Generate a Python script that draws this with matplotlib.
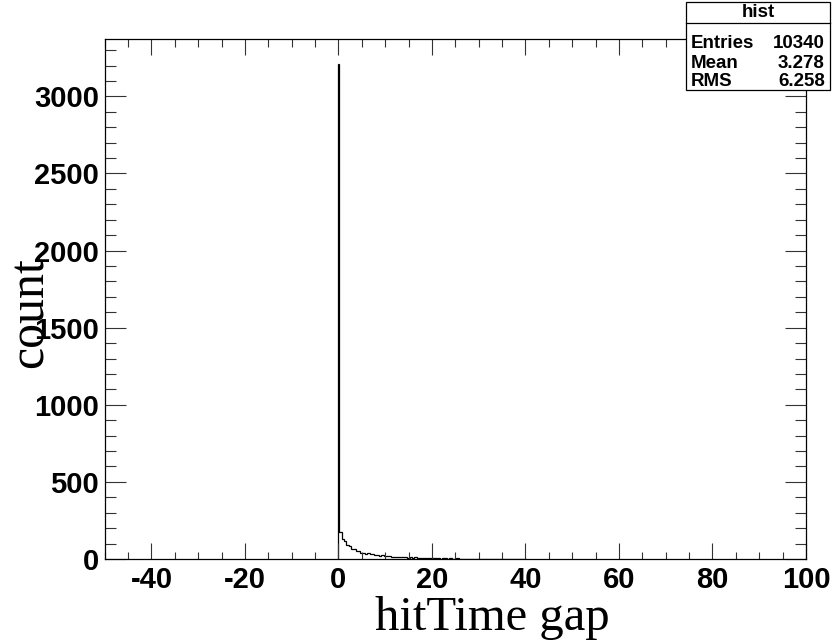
import matplotlib
matplotlib.use('Agg')
import matplotlib.pyplot as plt
from matplotlib.patches import Rectangle
from matplotlib.lines import Line2D
from matplotlib.ticker import MultipleLocator

plt.rcParams['font.family'] = ['Liberation Sans', 'DejaVu Sans']
plt.rcParams['font.weight'] = 'bold'
plt.rcParams['axes.unicode_minus'] = False

# ---------------- data ----------------
spike_edges = [0.0, 0.1, 0.2]
spike_counts = [3210, 1110]
tail_start = 0.2
tail_width = 0.5
tail_counts = [172, 130, 118, 94, 86, 68, 64, 53, 49, 42,
               41, 35, 36, 30, 31, 26, 27, 22, 24, 19,
               20, 17, 16, 15, 16, 12, 13, 11, 12, 9,
               11, 8, 10, 7, 9, 6, 8, 5, 7, 6,
               4, 6, 5, 3, 5, 4, 3, 4, 3, 2,
               4, 2, 3, 2, 1, 3, 2, 1, 3, 1,
               2, 1, 2, 0, 1, 2, 1, 0, 2, 1,
               1, 0, 2, 1, 0, 1, 0, 2, 0, 1]
x_range = [-50, 100]
y_range = [0, 3370]
x_title = 'hitTime gap'
y_title = 'count'
stats_name = 'hist'
stats_labels = ['Entries', 'Mean', 'RMS']
stats_values = ['10340', '3.278', '6.258']

# ---------------- figure ----------------
W, H = 833, 644
fig = plt.figure(figsize=(W / 100, H / 100), dpi=100)
left, right, top, bottom = 104.7, 806, 39.3, 559
ax = fig.add_axes([left / W, 1 - bottom / H, (right - left) / W, (bottom - top) / H])

edges = list(spike_edges) + [tail_start + tail_width * (i + 1) for i in range(len(tail_counts))]
values = list(spike_counts) + list(tail_counts)
ax.stairs(values, edges, baseline=0, color='black', linewidth=0.9)

ax.set_xlim(*x_range)
ax.set_ylim(*y_range)

for s in ax.spines.values():
    s.set_linewidth(0.9)

ax.xaxis.set_major_locator(MultipleLocator(20))
ax.xaxis.set_minor_locator(MultipleLocator(5))
ax.yaxis.set_major_locator(MultipleLocator(500))
ax.yaxis.set_minor_locator(MultipleLocator(100))
ax.tick_params(which='both', direction='in', top=True, right=True, width=0.8, color='#333333')
ax.tick_params(axis='x', which='major', length=11.5, labelsize=21, pad=5)
ax.tick_params(axis='x', which='minor', length=5.4)
ax.tick_params(axis='y', which='major', length=15, labelsize=21, pad=4)
ax.tick_params(axis='y', which='minor', length=7.9)

fig.text(492 / W, 1 - 618 / H, x_title, family='Liberation Serif', fontweight='normal',
         fontsize=35, ha='center', va='center')
fig.text(30 / W, 1 - 313 / H, y_title, family='Liberation Serif', fontweight='normal',
         fontsize=36, ha='center', va='center', rotation=90)

# ---------------- stats box ----------------
bx0, bx1, by0, by1 = 686, 830, 2, 90
fig.add_artist(Rectangle((bx0 / W, 1 - by1 / H), (bx1 - bx0) / W, (by1 - by0) / H,
                         transform=fig.transFigure, facecolor='white', edgecolor='black',
                         linewidth=0.9, zorder=10))
fig.add_artist(Line2D([bx0 / W, bx1 / W], [1 - 23 / H, 1 - 23 / H], transform=fig.transFigure,
                      color='black', linewidth=0.9, zorder=11))
fig.text((bx0 + bx1) / 2 / W, 1 - 12.5 / H, stats_name, fontsize=13.5, ha='center', va='center', zorder=12)
row_y = [44, 63, 82]
for lab, val, yy in zip(stats_labels, stats_values, row_y):
    fig.text((bx0 + 5) / W, 1 - yy / H, lab, fontsize=13.5, ha='left', va='center', zorder=12)
    fig.text((bx1 - 5) / W, 1 - yy / H, val, fontsize=13.5, ha='right', va='center', zorder=12)

fig.savefig('out.png', dpi=100)
